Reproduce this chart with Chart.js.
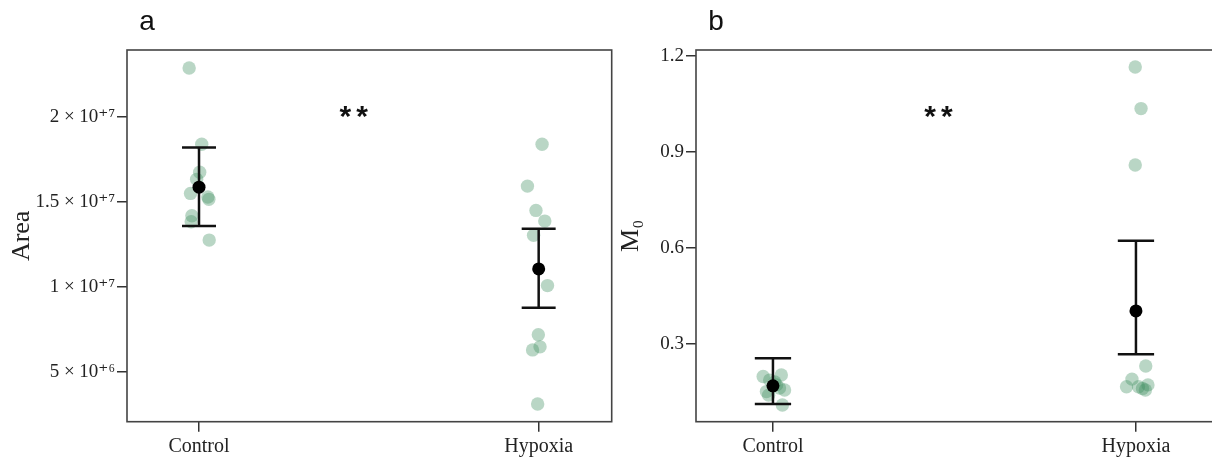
<!DOCTYPE html>
<html>
<head>
<meta charset="utf-8">
<script src="https://cdn.jsdelivr.net/npm/chart.js@4.4.1/dist/chart.umd.min.js"></script>
<style>
  html, body { margin: 0; padding: 0; background: #fff; overflow: hidden; }
  body { width: 1212px; height: 459px; position: relative; }
  canvas { position: absolute; top: 0; }
  #area-chart { left: 0; }
  #m0-chart { left: 600px; }
</style>
</head>
<body>
<canvas id="area-chart" width="640" height="459"></canvas>
<canvas id="m0-chart" width="640" height="459"></canvas>
<script>
// groups
const groups = ["Control", "Hypoxia"];

// panel a: Area (x = group position incl. jitter)
const areaControlX = [0.971, 1.008, 1.002, 0.993, 0.975, 1.029, 1.026, 0.979, 0.977, 1.030];
const areaControlY = [2.29e7, 1.841e7, 1.676e7, 1.634e7, 1.551e7, 1.516e7, 1.53e7, 1.419e7, 1.384e7, 1.276e7];
const areaHypoxiaX = [2.010, 1.967, 1.992, 2.018, 1.985, 2.026, 1.999, 2.004, 1.982, 1.997];
const areaHypoxiaY = [1.841e7, 1.594e7, 1.451e7, 1.388e7, 1.304e7, 1.008e7, 7.18e6, 6.47e6, 6.29e6, 3.1e6];
const areaMean = [1.588e7, 1.106e7];
const areaLow = [1.359e7, 8.78e6];
const areaHigh = [1.822e7, 1.343e7];
const areaTicks = [5e6, 1e7, 1.5e7, 2e7];
const areaTickLabels = ["5 \u00d7 10\u207a\u2076", "1 \u00d7 10\u207a\u2077", "1.5 \u00d7 10\u207a\u2077", "2 \u00d7 10\u207a\u2077"];

// panel b: M0
const m0ControlX = [0.973, 1.023, 0.982, 1.032, 1.026, 0.991, 1.010, 1.005, 0.988, 1.018];
const m0ControlY = [0.199, 0.204, 0.152, 0.157, 0.110, 0.188, 0.173, 0.182, 0.141, 0.163];
const m0HypoxiaX = [1.998, 2.014, 1.998, 2.027, 1.989, 1.974, 2.007, 2.018, 2.033, 2.026];
const m0HypoxiaY = [1.166, 1.036, 0.86, 0.232, 0.191, 0.167, 0.167, 0.162, 0.173, 0.157];
const m0Mean = [0.17, 0.404];
const m0Low = [0.113, 0.269];
const m0High = [0.256, 0.623];
const m0Ticks = [0.3, 0.6, 0.9, 1.2];
const m0TickLabels = ["0.3", "0.6", "0.9", "1.2"];

Chart.defaults.font.family = "'Liberation Serif', 'DejaVu Serif', serif";
Chart.defaults.color = "#222";

const dotColor = "rgba(60, 140, 95, 0.36)";
const capHalf = 0.05;

let toPoints = (xs, ys) => xs.map((x, i) => ({ x: x, y: ys[i] }));

let errorBarData = (lo, hi) => {
  let pts = [];
  groups.forEach((g, i) => {
    let x = i + 1;
    pts.push({ x: x - capHalf, y: hi[i] }, { x: x + capHalf, y: hi[i] }, { x: x, y: null });
    pts.push({ x: x, y: hi[i] }, { x: x, y: lo[i] }, { x: x, y: null });
    pts.push({ x: x - capHalf, y: lo[i] }, { x: x + capHalf, y: lo[i] }, { x: x, y: null });
  });
  return pts;
};

// box + panel letter + significance stars
const decorPlugin = {
  id: "decor",
  afterDraw(chart, args, opts) {
    let { ctx, chartArea: a, scales } = chart;
    ctx.save();
    ctx.strokeStyle = "#444";
    ctx.lineWidth = 1.6;
    ctx.strokeRect(a.left, a.top, a.right - a.left, a.bottom - a.top);
    ctx.fillStyle = "#111";
    ctx.textAlign = "center";
    ctx.textBaseline = "middle";
    ctx.font = "28px 'Liberation Sans', Arial, sans-serif";
    ctx.fillText(opts.letter, a.left + opts.letterDx, 22);
    ctx.font = "bold 30px 'Liberation Sans', Arial, sans-serif";
    ctx.letterSpacing = "5px";
    ctx.fillText("**", scales.x.getPixelForValue(opts.starX) + 1, scales.y.getPixelForValue(opts.starY) + 6);
    ctx.restore();
  }
};

let makeChart = (id, cfg) => {
  let ctx = document.getElementById(id).getContext("2d");
  return new Chart(ctx, {
    type: "scatter",
    data: {
      datasets: [
        {
          data: toPoints(cfg.cx, cfg.cy),
          backgroundColor: dotColor, borderWidth: 0, pointRadius: 6.7, order: 3
        },
        {
          data: toPoints(cfg.hx, cfg.hy),
          backgroundColor: dotColor, borderWidth: 0, pointRadius: 6.7, order: 3
        },
        {
          type: "line",
          data: errorBarData(cfg.low, cfg.high),
          borderColor: "#111", borderWidth: 2.5, pointRadius: 0,
          spanGaps: false, fill: false, order: 2
        },
        {
          data: toPoints([1, 2], cfg.mean),
          backgroundColor: "#000", borderWidth: 0, pointRadius: 6.5, order: 1
        }
      ]
    },
    options: {
      responsive: false,
      animation: false,
      layout: { padding: { left: 0, right: cfg.padRight, top: 50, bottom: 0 } },
      plugins: {
        legend: { display: false },
        tooltip: { enabled: false },
        decor: { letter: cfg.letter, letterDx: 20, starX: 1.46, starY: cfg.starY }
      },
      scales: {
        x: {
          type: "linear",
          min: 0.788, max: 2.215,
          afterBuildTicks: s => { s.ticks = [{ value: 1 }, { value: 2 }]; },
          afterFit: s => { s.height = 37.3; },
          ticks: {
            callback: v => groups[v - 1],
            font: { size: 20 }, padding: 3, maxRotation: 0
          },
          grid: { drawOnChartArea: false, tickLength: 10, color: "#333", lineWidth: 1.5 },
          border: { display: false }
        },
        y: {
          min: cfg.ymin, max: cfg.ymax,
          afterBuildTicks: s => { s.ticks = cfg.ticks.map(v => ({ value: v })); },
          afterFit: s => { s.width = cfg.yWidth; },
          ticks: {
            callback: (v, i) => cfg.tickLabels[i],
            font: { size: 19 }, padding: 2
          },
          title: {
            display: true, text: cfg.title,
            font: { size: 26 }, padding: { top: cfg.titlePad, bottom: 0 }
          },
          grid: { drawOnChartArea: false, tickLength: 10, color: "#333", lineWidth: 1.5 },
          border: { display: false }
        }
      }
    },
    plugins: [decorPlugin]
  });
};

var areaChart = makeChart("area-chart", {
  cx: areaControlX, cy: areaControlY, hx: areaHypoxiaX, hy: areaHypoxiaY,
  mean: areaMean, low: areaLow, high: areaHigh,
  ymin: 2.06e6, ymax: 2.396e7, ticks: areaTicks, tickLabels: areaTickLabels,
  title: "Area", titlePad: 7, yWidth: 127, padRight: 28.3,
  letter: "a", starY: 2.03e7
});

var m0Chart = makeChart("m0-chart", {
  cx: m0ControlX, cy: m0ControlY, hx: m0HypoxiaX, hy: m0HypoxiaY,
  mean: m0Mean, low: m0Low, high: m0High,
  ymin: 0.058, ymax: 1.219, ticks: m0Ticks, tickLabels: m0TickLabels,
  title: "M\u2080", titlePad: 16, yWidth: 96, padRight: 26,
  letter: "b", starY: 1.027
});
</script>
</body>
</html>
